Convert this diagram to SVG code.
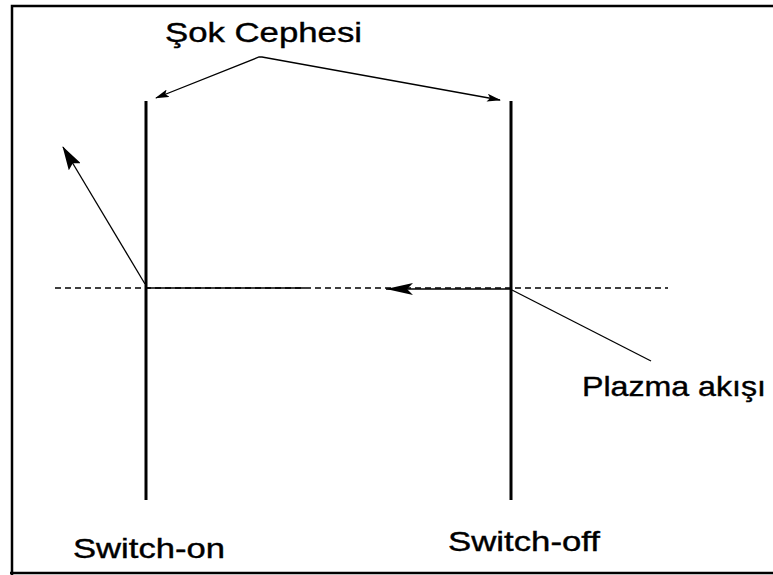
<svg xmlns="http://www.w3.org/2000/svg" width="773" height="575" viewBox="0 0 773 575">
<style>
.lbl{font-family:"Liberation Sans",Arial,sans-serif;font-size:28px;fill:#000;stroke:#000;stroke-width:0.4}
.thin{stroke:#000;stroke-width:1.3;fill:none}
.dash{stroke:#000;stroke-width:1.5;stroke-dasharray:6 4;fill:none}
.front{stroke:#000;stroke-width:3;fill:none}
</style>
<defs>
<marker id="ah" markerWidth="14" markerHeight="8" refX="13" refY="4" orient="auto-start-reverse" markerUnits="userSpaceOnUse">
<path d="M0,0 L14,4 L0,8 L3,4 Z" fill="#000"/>
</marker>
<marker id="ahb" markerWidth="24" markerHeight="14" refX="23" refY="7" orient="auto" markerUnits="userSpaceOnUse">
<path d="M0,0 L24,7 L0,14 L4,7 Z" fill="#000"/>
</marker>
<marker id="ahm" markerWidth="28" markerHeight="12" refX="27" refY="6" orient="auto" markerUnits="userSpaceOnUse">
<path d="M0,0 L27,6 L0,12 L6,6 Z" fill="#000"/>
</marker>
</defs>
<rect x="0" y="0" width="773" height="575" fill="#fff"/>
<path d="M12,575 V6 H775 M10,573 H775" stroke="#000" stroke-width="2.5" fill="none"/>
<g id="front-on"><line class="front" x1="146" y1="101" x2="146" y2="500"/></g>
<g id="front-off"><line class="front" x1="511" y1="101" x2="511" y2="500"/></g>
<g id="labels">
<text class="lbl" x="165" y="42" textLength="197" lengthAdjust="spacingAndGlyphs">Şok Cephesi</text>
<text class="lbl" x="582" y="396" textLength="184" lengthAdjust="spacingAndGlyphs">Plazma akışı</text>
<text class="lbl" x="73" y="558" textLength="152" lengthAdjust="spacingAndGlyphs">Switch-on</text>
<text class="lbl" x="448" y="551" textLength="152" lengthAdjust="spacingAndGlyphs">Switch-off</text>
</g>
<g id="connectors">
<line class="dash" x1="55" y1="288" x2="668" y2="288"/>
<line class="thin" x1="146" y1="288" x2="305" y2="288"/>
<line class="thin" x1="511" y1="289" x2="386" y2="289" stroke-width="2" marker-end="url(#ahm)"/>
<line class="thin" x1="145" y1="284" x2="63" y2="147" marker-end="url(#ahb)"/>
<line class="thin" x1="512" y1="290" x2="651" y2="361"/>
<polyline class="thin" points="156,98 259,57 262,57 500,100" marker-start="url(#ah)" marker-end="url(#ah)"/>
</g>
</svg>
